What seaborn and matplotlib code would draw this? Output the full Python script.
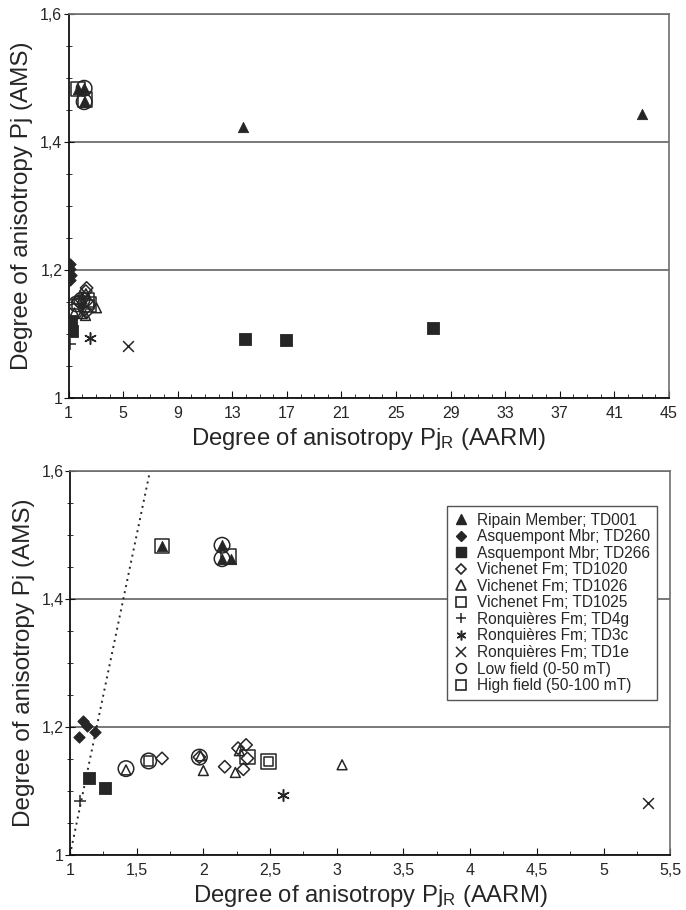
import numpy as np
import pandas as pd
import matplotlib
matplotlib.use("Agg")
import matplotlib.pyplot as plt
from matplotlib.ticker import MultipleLocator, FixedLocator, FuncFormatter
from matplotlib.lines import Line2D
import seaborn as sns

# ============================================================
# data (Pj_R (AARM) vs Pj (AMS))
# ============================================================

td001_x = [1.69, 2.14, 2.14, 2.21, 13.8, 43.0]
td001_y = [1.483, 1.484, 1.463, 1.463, 1.424, 1.444]

td260_x = [1.07, 1.10, 1.13, 1.19]
td260_y = [1.184, 1.209, 1.201, 1.192]

td266_x = [1.146, 1.264, 13.95, 16.9, 27.7]
td266_y = [1.120, 1.105, 1.092, 1.091, 1.110]

td1020_x = [1.69, 1.97, 2.16, 2.26, 2.32, 2.33, 2.30]
td1020_y = [1.151, 1.153, 1.138, 1.167, 1.172, 1.151, 1.134]

td1026_x = [1.42, 1.98, 2.00, 2.24, 2.27, 3.04]
td1026_y = [1.133, 1.155, 1.132, 1.129, 1.163, 1.141]

td1025_x = [1.59, 2.49]
td1025_y = [1.147, 1.146]

td4g_x = [1.075]
td4g_y = [1.085]

td3c_x = [2.60]
td3c_y = [1.094]

td1e_x = [5.33]
td1e_y = [1.082]

low_x = [1.42, 1.59, 1.97, 2.14, 2.14]
low_y = [1.135, 1.147, 1.153, 1.484, 1.463]

high_x = [1.69, 2.19, 2.33, 2.49]
high_y = [1.483, 1.466, 1.153, 1.146]

labels = [
    "Ripain Member; TD001",
    "Asquempont Mbr; TD260",
    "Asquempont Mbr; TD266",
    "Vichenet Fm; TD1020",
    "Vichenet Fm; TD1026",
    "Vichenet Fm; TD1025",
    "Ronquières Fm; TD4g",
    "Ronquières Fm; TD3c",
    "Ronquières Fm; TD1e",
    "Low field (0-50 mT)",
    "High field (50-100 mT)",
]

# ============================================================
# style
# ============================================================

sns.set_style("ticks")
plt.rcParams["font.family"] = ["Liberation Sans", "DejaVu Sans"]
plt.rcParams["mathtext.fontset"] = "custom"
plt.rcParams["mathtext.rm"] = "Liberation Sans"
plt.rcParams["mathtext.it"] = "Liberation Sans"

INK = "#262626"
GRID = "#6e6e6e"

# label, x, y, marker, kind, size
series = [
    (labels[0], td001_x, td001_y, "^", "filled", 55),
    (labels[1], td260_x, td260_y, "D", "filled", 34),
    (labels[2], td266_x, td266_y, "s", "filled", 72),
    (labels[3], td1020_x, td1020_y, "D", "open", 40),
    (labels[4], td1026_x, td1026_y, "^", "open", 50),
    (labels[5], td1025_x, td1025_y, "s", "open", 45),
    (labels[6], td4g_x, td4g_y, "+", "line", 70),
    (labels[7], td3c_x, td3c_y, (6, 2, 0), "line", 70),
    (labels[8], td1e_x, td1e_y, "x", "line", 60),
    (labels[9], low_x, low_y, "o", "open", 125),
    (labels[10], high_x, high_y, "s", "open", 110),
]


def comma_fmt(v, pos):
    return f"{v:g}".replace(".", ",")


def draw_points(ax):
    for lab, xs, ys, mk, kind, size in series:
        d = pd.DataFrame({"x": xs, "y": ys})
        if kind == "filled":
            sns.scatterplot(data=d, x="x", y="y", ax=ax, marker=mk, s=size,
                            color=INK, edgecolor=INK, linewidth=0.6,
                            legend=False, zorder=3)
        elif kind == "open":
            sns.scatterplot(data=d, x="x", y="y", ax=ax, marker=mk, s=size,
                            facecolor="none", edgecolor=INK, linewidth=1.1,
                            legend=False, zorder=3)
        else:
            sns.scatterplot(data=d, x="x", y="y", ax=ax, marker=mk, s=size,
                            color=INK, linewidth=1.1, legend=False, zorder=3)


def style_axes(ax):
    ax.set_ylim(1, 1.6)
    ax.yaxis.set_major_locator(MultipleLocator(0.2))
    ax.yaxis.set_minor_locator(MultipleLocator(0.05))
    ax.yaxis.set_major_formatter(FuncFormatter(comma_fmt))
    ax.xaxis.set_major_formatter(FuncFormatter(comma_fmt))
    ax.yaxis.grid(True, which="major", color=GRID, linewidth=1.3)
    ax.xaxis.grid(False)
    ax.set_axisbelow(True)
    for side in ["left", "bottom"]:
        ax.spines[side].set_color("#111111")
        ax.spines[side].set_linewidth(1.3)
    for side in ["top", "right"]:
        ax.spines[side].set_visible(True)
        ax.spines[side].set_color(GRID)
        ax.spines[side].set_linewidth(1.2)
    ax.tick_params(axis="y", which="both", direction="inout", color="#111111",
                   labelsize=11.5, pad=1)
    ax.tick_params(axis="y", which="major", length=7)
    ax.tick_params(axis="y", which="minor", length=4)
    ax.tick_params(axis="x", which="both", direction="in", color="#111111",
                   labelsize=11.5, pad=6)
    ax.tick_params(axis="x", which="major", length=5)
    ax.tick_params(axis="x", which="minor", length=3)
    ax.set_ylabel("Degree of anisotropy Pj (AMS)", fontsize=17.5, labelpad=5)
    ax.set_xlabel(r"Degree of anisotropy Pj$_\mathrm{R}$ (AARM)", fontsize=17.2,
                  labelpad=3)


fig = plt.figure(figsize=(6.86, 9.10), dpi=100)
ax1 = fig.add_axes([0.100, 0.5626, 0.875, 0.4220])
ax2 = fig.add_axes([0.102, 0.0604, 0.875, 0.4220])

# ------------------------------------------------------------
# top panel: full range
# ------------------------------------------------------------
draw_points(ax1)
ax1.set_xlim(1, 45)
ax1.xaxis.set_major_locator(FixedLocator(np.arange(1, 46, 4)))
ax1.xaxis.set_minor_locator(MultipleLocator(1))
style_axes(ax1)

# ------------------------------------------------------------
# bottom panel: zoom on 1 - 5.5 with the 1:1 line
# ------------------------------------------------------------
draw_points(ax2)
ax2.axline((1, 1), slope=1, color=INK, linestyle=(0, (1, 2.2)), linewidth=1.4,
           zorder=2)
ax2.set_xlim(1, 5.5)
ax2.xaxis.set_major_locator(MultipleLocator(0.5))
ax2.xaxis.set_minor_locator(MultipleLocator(0.25))
style_axes(ax2)

handles = []
for lab, xs, ys, mk, kind, size in series:
    if kind == "filled":
        h = Line2D([], [], linestyle="none", marker=mk, markersize=7 if mk != "D" else 5.5,
                   markerfacecolor=INK, markeredgecolor=INK)
    elif kind == "open":
        h = Line2D([], [], linestyle="none", marker=mk, markersize=7 if mk != "D" else 5.5,
                   markerfacecolor="none", markeredgecolor=INK, markeredgewidth=1.2)
    else:
        h = Line2D([], [], linestyle="none", marker=mk, markersize=7,
                   color=INK, markeredgewidth=1.1)
    handles.append(h)

leg = ax2.legend(handles, labels, loc="upper right", bbox_to_anchor=(0.978, 0.91),
                 fontsize=11.2, frameon=True, fancybox=False, framealpha=1,
                 edgecolor="#555555", handlelength=1.0, handletextpad=0.5,
                 labelspacing=0.1, borderpad=0.45, borderaxespad=0)
leg.get_frame().set_linewidth(1.0)

fig.savefig("out.png", dpi=100)
